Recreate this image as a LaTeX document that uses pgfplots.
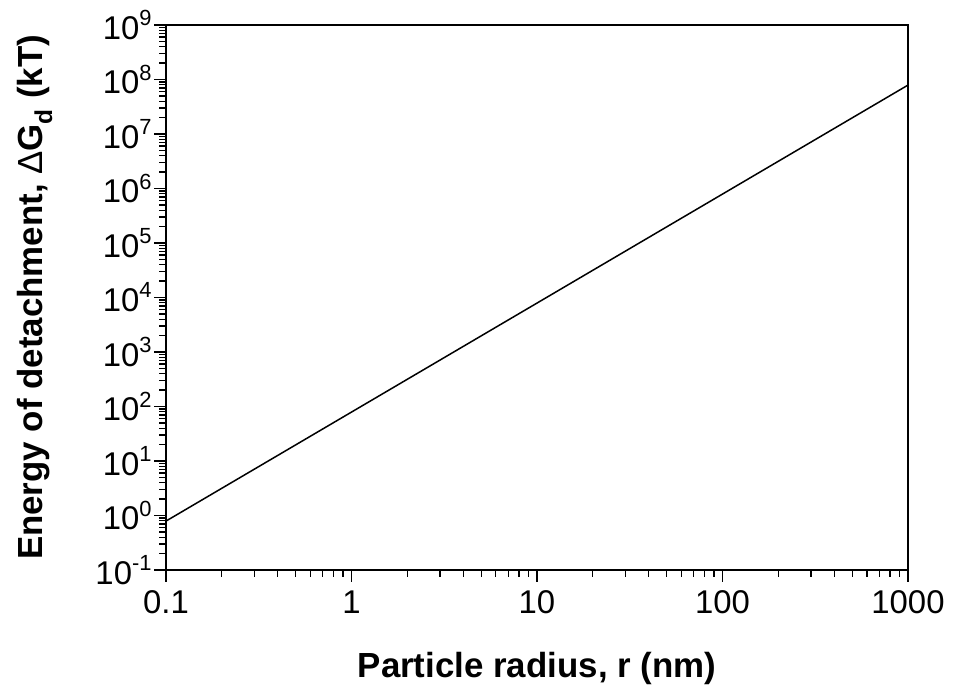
\documentclass[border=0pt]{standalone}
\usepackage{pgfplots}
\pgfplotsset{compat=1.18}
\usepackage{fontspec}
\setmainfont{Liberation Sans}
\newcommand{\ex}[1]{\raisebox{0.42em}{\fontsize{22}{22}\selectfont #1}}
\begin{document}
\begin{tikzpicture}[x=1bp,y=1bp]
\begin{axis}[
  xmode=log, ymode=log,
  scale only axis,
  width=742bp, height=545bp,
  xmin=0.1, xmax=1000, ymin=0.1, ymax=1e9,
  axis line style={line width=1.8bp},
  xtick pos=bottom, ytick pos=left,
  xtick align=outside, ytick align=outside,
  major tick length=12bp, minor tick length=7bp,
  every tick/.style={black, line width=1.3bp},
  xtick={0.1,1,10,100,1000},
  xticklabels={0.1,1,10,100,1000},
  ytick={1e-1,1e0,1e1,1e2,1e3,1e4,1e5,1e6,1e7,1e8,1e9},
  yticklabels={10\ex{-1},10\ex{0},10\ex{1},10\ex{2},10\ex{3},10\ex{4},10\ex{5},10\ex{6},10\ex{7},10\ex{8},10\ex{9}},
  tick label style={font=\fontsize{33}{33}\selectfont},
  xticklabel style={yshift=-5bp},
  yticklabel style={xshift=1bp},
  xlabel={\fontsize{35}{35}\selectfont\bfseries Particle radius, r (nm)},
  ylabel={\fontsize{35}{35}\selectfont\bfseries Energy of detachment, \textmd{Δ}G\textsubscript{d} (kT)},
  xlabel style={at={(axis description cs:0.5,-0.198)}, anchor=base},
  ylabel style={at={(axis description cs:-0.1658,0.5)}, anchor=base},
]
\addplot[black, line width=1.5bp] coordinates {
(0.1,0.79) (1,79) (10,7900) (100,790000) (1000,79000000)
};
\end{axis}
\path ([shift={(-166bp,-116bp)}]current axis.south west) rectangle ([shift={(45bp,25bp)}]current axis.north east);
\end{tikzpicture}
\end{document}
